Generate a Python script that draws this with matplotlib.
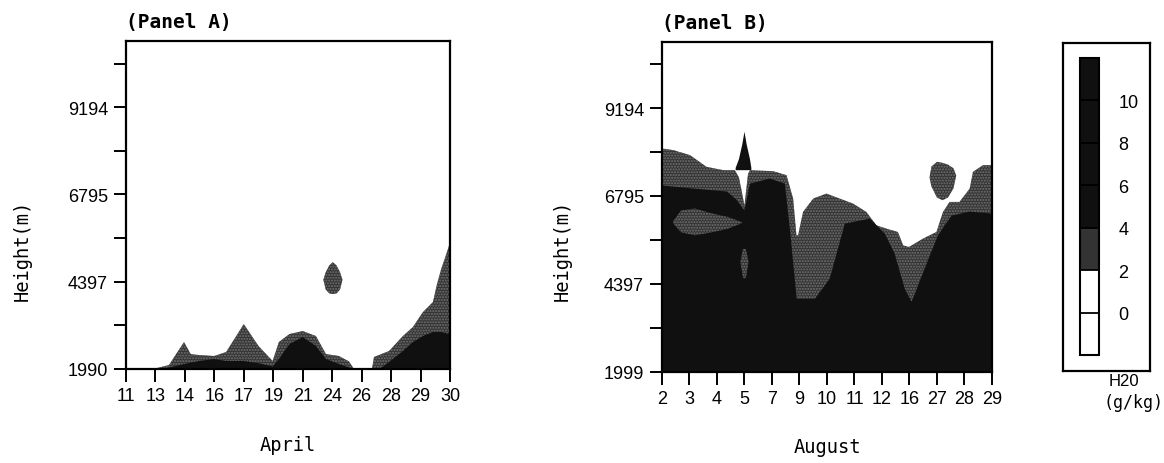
import numpy as np
import matplotlib
matplotlib.use("Agg")
import matplotlib.pyplot as plt
from matplotlib.colors import ListedColormap, BoundaryNorm
from matplotlib.cm import ScalarMappable

# --- data ------------------------------------------------------------------
# x positions are in units of tick index (0 = first labelled day)
a_days = ["11", "13", "14", "16", "17", "19", "21", "24", "26", "28", "29", "30"]
b_days = ["2", "3", "4", "5", "7", "9", "10", "11", "12", "16", "27", "28", "29"]
a_yticks = [1990, 4397, 6795, 9194]
b_yticks = [1999, 4397, 6795, 9194]

# top of the >2 g/kg region (grey) and of the >4 g/kg region (black), panel A
a_grey_x = [0, 0.95, 1.46, 1.97, 2.2, 2.48, 2.99, 3.4, 4.0, 4.5, 4.98, 5.19, 5.55, 6.0,
            6.45, 6.79, 7.23, 7.57, 7.74, 8.35, 8.42, 8.93, 9.4, 9.74, 10.08, 10.42,
            10.55, 10.7, 10.93, 11]
a_grey_h = [1990, 1995, 2100, 2732, 2400, 2375, 2347, 2457, 3227, 2622, 2210, 2732, 2952,
            3035, 2897, 2402, 2347, 2200, 1990, 1990, 2320, 2485, 2897, 3145, 3557, 3832,
            4300, 4739, 5289, 5481]
a_black_x = [0, 1.3, 1.46, 1.97, 2.48, 2.99, 3.4, 4.0, 4.5, 4.98, 5.19, 5.55, 6.0, 6.45,
             6.79, 7.23, 7.57, 7.74, 8.6, 8.93, 9.4, 9.74, 10.08, 10.42, 10.7, 11]
a_black_h = [1990, 1990, 2030, 2127, 2210, 2265, 2210, 2210, 2150, 2060, 2265, 2677, 2870,
             2622, 2265, 2127, 2030, 1990, 1990, 2182, 2485, 2732, 2897, 3007, 3007, 2950]
# isolated moist cell near the 24th
a_blob_x = [6.70, 6.78, 6.90, 7.02, 7.15, 7.27, 7.35]
a_blob_lo = [4450, 4180, 4070, 4052, 4070, 4180, 4450]
a_blob_hi = [4450, 4650, 4840, 4931, 4840, 4650, 4450]

# panel B
b_grey_x = [0, 0.41, 1.02, 1.62, 2.23, 2.65, 2.8, 3.0, 3.13, 3.2, 4.04, 4.53, 4.77, 4.89,
            4.95, 5.13, 5.5, 5.98, 6.46, 6.95, 7.43, 7.8, 8.16, 8.58, 8.77, 8.98, 9.49,
            9.98, 10.22, 10.46, 10.82, 11.19, 11.31, 11.67, 12]
b_grey_h = [8091, 8046, 7909, 7590, 7498, 7498, 7300, 6541, 7400, 7498, 7471, 7362, 6723,
            5720, 5720, 6358, 6723, 6860, 6723, 6586, 6358, 5993, 5902, 5811, 5447, 5401,
            5629, 5811, 6358, 6632, 6632, 6996, 7453, 7635, 7635]
b_black_x = [0, 1.13, 2.36, 2.7, 3.0, 3.2, 3.92, 4.47, 4.65, 4.9, 5.56, 6.1, 6.65, 7.56,
             8.1, 8.46, 8.83, 9.08, 9.55, 10.03, 10.53, 11.19, 12]
b_black_h = [7080, 6998, 6916, 6700, 6400, 7131, 7270, 7131, 5900, 3985, 3985, 4534, 6039,
             6176, 5766, 5219, 4261, 3905, 4808, 5711, 6258, 6368, 6313]
# spike above the 5th, cell near the 27th, drier pockets inside the black
b_spike_x = [2.68, 2.8, 2.92, 3.0, 3.08, 3.2, 3.25]
b_spike_lo = [7498, 7498, 7498, 7498, 7498, 7498, 7498]
b_spike_hi = [7560, 7800, 8200, 8547, 8200, 7800, 7560]
b_blob_x = [9.73, 9.8, 10.0, 10.2, 10.4, 10.6, 10.7]
b_blob_lo = [7300, 7050, 6750, 6678, 6750, 7000, 7350]
b_blob_hi = [7300, 7600, 7726, 7700, 7650, 7550, 7350]
b_pocket_x = [0.4, 0.7, 1.2, 1.8, 2.4, 2.9]
b_pocket_lo = [6050, 5800, 5720, 5800, 5900, 6050]
b_pocket_hi = [6100, 6400, 6450, 6320, 6220, 6080]
b_pocket2_x = [2.85, 2.95, 3.05, 3.15]
b_pocket2_lo = [5000, 4550, 4550, 5000]
b_pocket2_hi = [5000, 5350, 5350, 5000]

# colour key (g/kg)
key_levels = [-2, 0, 2, 4, 6, 8, 10, 12]
key_ticks = [0, 2, 4, 6, 8, 10]

GREY = "#333333"
DOTS = "#727272"
BLACK = "#101010"
NARROW = ["Liberation Sans Narrow", "Liberation Sans", "DejaVu Sans"]
MONO = ["DejaVu Sans Mono"]

fig = plt.figure(figsize=(11.64, 4.64), dpi=100)


def panel(rect, days, yticks, top, grey, black, extras, month, title):
    ax = fig.add_axes(rect)
    bottom = yticks[0]
    ax.fill_between(grey[0], bottom, grey[1], facecolor=GREY, hatch="......",
                    edgecolor=DOTS, linewidth=0)
    ax.fill_between(black[0], bottom, black[1], facecolor=BLACK, linewidth=0)
    for x, lo, hi, col in extras:
        if col == GREY:
            ax.fill_between(x, lo, hi, facecolor=GREY, hatch="......",
                            edgecolor=DOTS, linewidth=0)
        else:
            ax.fill_between(x, lo, hi, facecolor=col, linewidth=0)
    ax.set_xlim(0, len(days) - 1)
    ax.set_ylim(bottom, top)
    ax.set_xticks(range(len(days)))
    ax.set_xticklabels(days, family=NARROW, fontsize=13)
    ax.set_yticks(yticks)
    ax.set_yticklabels([str(v) for v in yticks], family=NARROW, fontsize=13)
    ax.set_yticks([(a + b) / 2 for a, b in zip(yticks, yticks[1:] + [yticks[-1] + 2399])],
                  minor=True)
    ax.tick_params(which="both", direction="out", length=9, width=1.4, pad=4)
    for s in ax.spines.values():
        s.set_linewidth(1.6)
    ax.text(0, 1.03, title, transform=ax.transAxes, ha="left", va="bottom",
            family=MONO, fontsize=14, fontweight="bold")
    ax.set_xlabel(month, family=MONO, fontsize=13.5, labelpad=22)
    return ax


axA = panel([0.1082, 0.2026, 0.2784, 0.7069], a_days, a_yticks, 11017,
            (a_grey_x, a_grey_h), (a_black_x, a_black_h),
            [(a_blob_x, a_blob_lo, a_blob_hi, GREY)], "April", "(Panel A)")
axB = panel([0.5687, 0.1970, 0.2835, 0.7112], b_days, b_yticks, 11009,
            (b_grey_x, b_grey_h), (b_black_x, b_black_h),
            [(b_spike_x, b_spike_lo, b_spike_hi, BLACK),
             (b_blob_x, b_blob_lo, b_blob_hi, GREY),
             (b_pocket_x, b_pocket_lo, b_pocket_hi, GREY),
             (b_pocket2_x, b_pocket2_lo, b_pocket2_hi, GREY)], "August", "(Panel B)")

fig.text(0.019, 0.46, "Height(m)", rotation=90, ha="center", va="center",
         family=MONO, fontsize=13.5)
fig.text(0.483, 0.46, "Height(m)", rotation=90, ha="center", va="center",
         family=MONO, fontsize=13.5)

# colour key: outer box + bar
box = fig.add_axes([0.9132, 0.1983, 0.0747, 0.7069])
box.set_xticks([])
box.set_yticks([])
for s in box.spines.values():
    s.set_linewidth(1.6)

cax = fig.add_axes([0.9278, 0.2328, 0.0163, 0.6401])
cmap = ListedColormap(["white", "white", GREY, BLACK, BLACK, BLACK, BLACK])
norm = BoundaryNorm(key_levels, cmap.N)
cb = fig.colorbar(ScalarMappable(norm=norm, cmap=cmap), cax=cax, ticks=key_ticks,
                  drawedges=True)
cb.outline.set_linewidth(1.5)
cb.dividers.set_linewidth(1.3)
cb.ax.minorticks_off()
cb.ax.tick_params(which="both", length=0, pad=14)
cb.ax.set_yticklabels([str(v) for v in key_ticks], family=NARROW, fontsize=13)

fig.text(0.9655, 0.177, "H20", ha="center", va="center", family=NARROW, fontsize=12)
fig.text(0.9735, 0.131, "(g/kg)", ha="center", va="center", family=MONO, fontsize=12)

fig.savefig("out.png", dpi=100)
